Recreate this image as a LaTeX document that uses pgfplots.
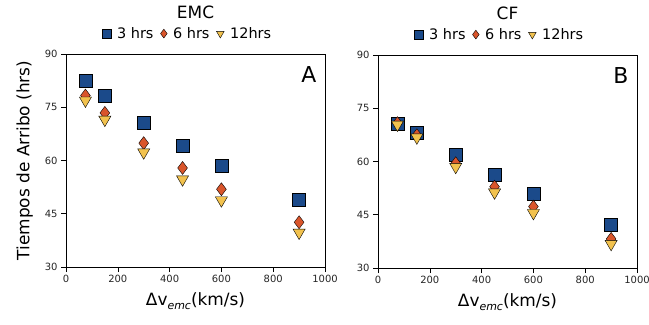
\documentclass[border=0pt]{standalone}
\usepackage{pgfplots}
\pgfplotsset{compat=1.18}
\usepackage{fontspec}
\setmainfont{DejaVu Sans}

\definecolor{cblue}{HTML}{1B4A8A}
\definecolor{corange}{HTML}{D9552B}
\definecolor{cyellow}{HTML}{F2C24E}

\pgfplotsset{
  panel/.style={
    scale only axis, width=259bp, height=213bp,
    anchor=south west,
    xmin=0, xmax=1000, ymin=30, ymax=90,
    xtick={0,200,400,600,800,1000},
    ytick={30,45,60,75,90},
    tick align=outside, tick pos=left,
    major tick length=5bp,
    /pgf/number format/assume math mode=true,
    /pgf/number format/1000 sep={},
    tick label style={font=\fontsize{10}{12}\selectfont, text=black!85},
    axis line style={black, line width=0.6pt},
    every tick/.style={black, line width=0.6pt},
    xlabel={\fontsize{17}{20}\selectfont Δv\raisebox{-0.35ex}{\fontsize{11}{12}\selectfont\itshape emc}(km/s)},
    xlabel style={yshift=-3bp},
    title style={font=\fontsize{17}{19}\selectfont, yshift=26bp},
    legend columns=3,
    legend style={draw=none, fill=none, at={(0.47,1.0)}, anchor=south, yshift=10bp,
      font=\fontsize{14.5}{16}\selectfont,
      /tikz/every odd column/.append style={column sep=4bp},
      /tikz/every even column/.append style={column sep=5bp}},
    legend image code/.code={\draw[#1, mark size=4.4bp] plot coordinates {(0.35em,0bp)};},
    s3/.style={only marks, mark=square*, mark size=6.5bp, draw=black, fill=cblue, line width=0.6pt},
    s6/.style={only marks, mark=diamond*, mark size=6.5bp, draw=black, fill=corange, line width=0.4pt},
    s12/.style={only marks, mark=triangle*, mark size=7bp, draw=black, fill=cyellow, line width=0.4pt,
      every mark/.append style={rotate=180}},
  },
}

\begin{document}
\begin{tikzpicture}[x=1bp,y=1bp]
\useasboundingbox (0,0) rectangle (649,324);

% Panel A: EMC
\begin{axis}[panel, at={(66bp,57bp)}, title={EMC},
  ylabel={\fontsize{17}{20}\selectfont Tiempos de Arribo (hrs)},
  ylabel style={yshift=5bp}]
\addplot[s3] coordinates {(75,82.5) (150,78.1) (300,70.6) (450,64.1) (600,58.4) (900,49.0)};
\addlegendentry{3 hrs}
\addplot[s6] coordinates {(75,78.3) (150,73.4) (300,64.9) (450,57.9) (600,51.9) (900,42.6)};
\addlegendentry{6 hrs}
\addplot[s12] coordinates {(75,76.9) (150,71.5) (300,62.3) (450,54.7) (600,48.8) (900,39.7)};
\addlegendentry{12hrs}
\node[anchor=north east, font=\fontsize{22}{24}\selectfont] at (rel axis cs:0.98,0.96) {A};
\end{axis}

% Panel B: CF
\begin{axis}[panel, at={(378bp,56bp)}, title={CF}]
\addplot[s3] coordinates {(75,70.7) (150,68.0) (300,61.8) (450,56.2) (600,51.0) (900,42.3)};
\addlegendentry{3 hrs}
\addplot[s6] coordinates {(75,70.8) (150,67.4) (300,59.5) (450,52.9) (600,47.3) (900,38.2)};
\addlegendentry{6 hrs}
\addplot[s12] coordinates {(75,70.4) (150,66.8) (300,58.5) (450,51.3) (600,45.5) (900,36.8)};
\addlegendentry{12hrs}
\node[anchor=north east, font=\fontsize{22}{24}\selectfont] at (rel axis cs:0.98,0.96) {B};
\end{axis}
\end{tikzpicture}
\end{document}
